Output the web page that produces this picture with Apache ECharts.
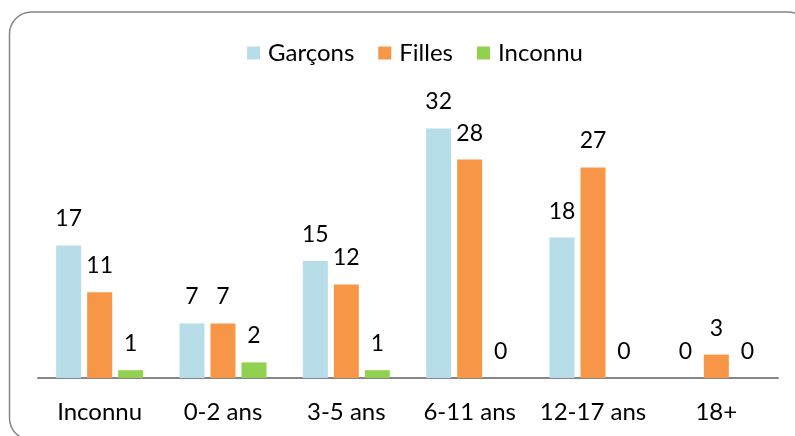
<!DOCTYPE html>
<html>
<head>
<meta charset="utf-8">
<script src="https://cdn.jsdelivr.net/npm/echarts@6/dist/echarts.min.js"></script>
<style>
  html, body { margin: 0; padding: 0; background: #fff; }
  #chart { width: 795px; height: 436px; }
</style>
</head>
<body>
<div id="chart"></div>
<script>
  // données
  var categories = ["Inconnu", "0-2 ans", "3-5 ans", "6-11 ans", "12-17 ans", "18+"];
  var garcons = [17, 7, 15, 32, 18, 0];
  var filles = [11, 7, 12, 28, 27, 3];
  var inconnu = [1, 2, 1, 0, 0, 0];

  var font = "Lato, 'Open Sans', sans-serif";

  var myChart = echarts.init(document.getElementById("chart"));

  var label = {
    show: true,
    position: "top",
    distance: 15,
    color: "#000",
    fontSize: 23,
    fontFamily: font
  };

  var option = {
    animation: false,
    textStyle: { fontFamily: font },
    graphic: [
      {
        type: "rect",
        shape: { x: 9.5, y: 12, width: 800, height: 428, r: 22 },
        style: { fill: "none", stroke: "#868686", lineWidth: 1.5 },
        z: -1
      }
    ],
    legend: {
      top: 36,
      left: 242,
      itemWidth: 13,
      itemHeight: 13,
      itemGap: 24,
      icon: "rect",
      textStyle: { color: "#000", fontSize: 24, fontFamily: font, padding: [0, 0, 0, 3] },
      data: ["Garçons", "Filles", "Inconnu"]
    },
    grid: {
      left: 38,
      right: 17,
      top: 105,
      bottom: 58
    },
    xAxis: {
      type: "category",
      data: categories,
      axisLine: { lineStyle: { color: "#868686", width: 2 } },
      axisTick: { show: false },
      axisLabel: { color: "#000", fontSize: 24, fontFamily: font, margin: 22, interval: 0 }
    },
    yAxis: {
      type: "value",
      min: 0,
      max: 35,
      show: false,
      splitLine: { show: false }
    },
    series: [
      {
        name: "Garçons",
        type: "bar",
        barWidth: 25,
        barGap: "24%",
        itemStyle: { color: "#B7DEE8" },
        label: label,
        data: garcons
      },
      {
        name: "Filles",
        type: "bar",
        barWidth: 25,
        barGap: "24%",
        itemStyle: { color: "#F79646" },
        label: label,
        data: filles
      },
      {
        name: "Inconnu",
        type: "bar",
        barWidth: 25,
        barGap: "24%",
        itemStyle: { color: "#92D050" },
        label: label,
        data: inconnu
      }
    ]
  };

  myChart.setOption(option);
  window.addEventListener("resize", function () {
    myChart.resize();
  });
</script>
</body>
</html>
